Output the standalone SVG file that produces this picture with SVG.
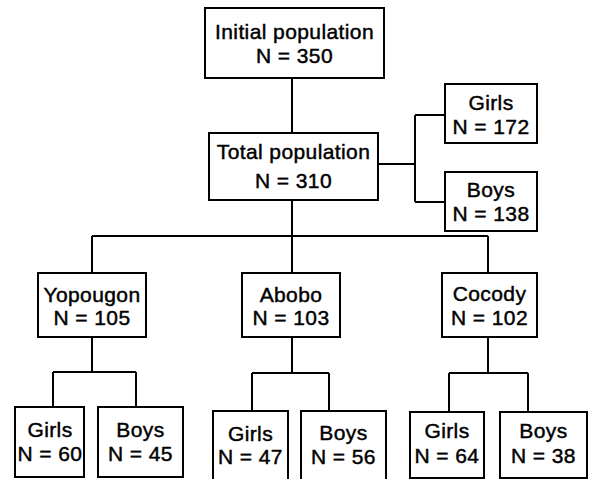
<svg xmlns="http://www.w3.org/2000/svg" width="589" height="479" viewBox="0 0 589 479">
<style>
.box{fill:#fff;stroke:#000;stroke-width:2}
.con{fill:none;stroke:#000;stroke-width:2}
text{font-family:"Liberation Sans",Arial,sans-serif;font-size:21px;fill:#000;stroke:#000;stroke-width:0.45;letter-spacing:0.4px;text-anchor:middle}
</style>
<rect width="589" height="479" fill="#fff"/>
<g id="connectors" class="con">
<path d="M292 78V133"/>
<path d="M378 164H415M415 115V202M415 115H445M415 202H445"/>
<path d="M292 200V273M92 236H488M92 236V273M488 236V273"/>
<path d="M92 337V372M53 372H136M53 372V407M136 372V407"/>
<path d="M292 337V373M252 373H329M252 373V411M329 373V411"/>
<path d="M488 337V373M449 373H528M449 373V412M528 373V412"/>
</g>
<g id="initial"><rect class="box" x="205" y="8" width="179" height="70"/><text x="294.5" y="39">Initial population</text><text x="294.5" y="63">N = 350</text></g>
<g id="total"><rect class="box" x="209" y="133" width="169" height="67"/><text x="293.5" y="159">Total population</text><text x="293.5" y="188">N = 310</text></g>
<g id="girls_total"><rect class="box" x="445" y="84" width="92" height="59"/><text x="491" y="110">Girls</text><text x="491" y="134">N = 172</text></g>
<g id="boys_total"><rect class="box" x="445" y="172" width="92" height="59"/><text x="491" y="197">Boys</text><text x="491" y="221">N = 138</text></g>
<g id="yopougon"><rect class="box" x="38" y="273" width="108" height="64"/><text x="92" y="302">Yopougon</text><text x="92" y="325">N = 105</text></g>
<g id="abobo"><rect class="box" x="242" y="273" width="98" height="64"/><text x="291" y="302">Abobo</text><text x="291" y="325">N = 103</text></g>
<g id="cocody"><rect class="box" x="442" y="273" width="95" height="64"/><text x="489.5" y="301">Cocody</text><text x="489.5" y="325">N = 102</text></g>
<g id="yop_girls"><rect class="box" x="15" y="407" width="69" height="70"/><text x="50" y="437">Girls</text><text x="50" y="461">N = 60</text></g>
<g id="yop_boys"><rect class="box" x="98" y="407" width="85" height="70"/><text x="140.5" y="437">Boys</text><text x="140.5" y="461">N = 45</text></g>
<g id="abo_girls"><rect class="box" x="213" y="411" width="75" height="75"/><text x="250.5" y="441">Girls</text><text x="250.5" y="464">N = 47</text></g>
<g id="abo_boys"><rect class="box" x="301" y="411" width="85" height="75"/><text x="343.5" y="440">Boys</text><text x="343.5" y="464">N = 56</text></g>
<g id="coc_girls"><rect class="box" x="410" y="412" width="74" height="66"/><text x="447" y="438">Girls</text><text x="447" y="463">N = 64</text></g>
<g id="coc_boys"><rect class="box" x="500" y="412" width="87" height="66"/><text x="543.5" y="438">Boys</text><text x="543.5" y="463">N = 38</text></g>
</svg>
